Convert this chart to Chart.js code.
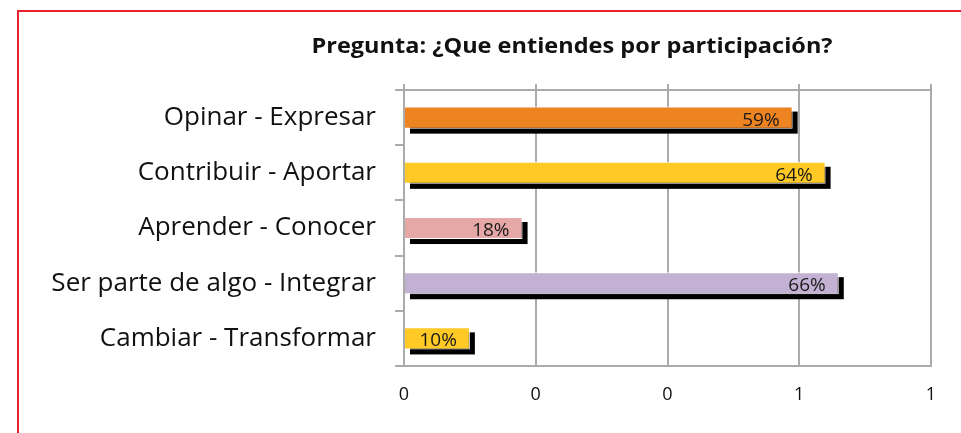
<!DOCTYPE html>
<html>
<head>
<meta charset="utf-8">
<script src="https://cdn.jsdelivr.net/npm/chart.js@4"></script>
<style>
  html, body { margin: 0; padding: 0; background: #fff; overflow: hidden; }
  #frame { position: absolute; left: 17px; top: 10px; width: 1000px; height: 500px;
           border-left: 2px solid #e8202a; border-top: 2px solid #e8202a; }
  #wrap { position: absolute; left: 0; top: 0; width: 961px; height: 433px; }
</style>
</head>
<body>
<div id="frame"></div>
<div id="wrap"><canvas id="myChart" width="961" height="433"></canvas></div>
<script>
// Datos del gráfico
const categorias = ['Opinar - Expresar', 'Contribuir - Aportar', 'Aprender - Conocer',
                    'Ser parte de algo - Integrar', 'Cambiar - Transformar'];
const valores = [0.59, 0.64, 0.18, 0.66, 0.10];
const etiquetas = ['59%', '64%', '18%', '66%', '10%'];
const colores = ['#EE8421', '#FFC926', '#E5A8A6', '#C3B1D3', '#FFC926'];
const titulo = 'Pregunta: ¿Que entiendes por participación?';

const gris = '#ababab';
const fuente = '"Open Sans", sans-serif';

// Sombra negra de las barras + etiquetas de datos + título
const extras = {
  id: 'extras',
  beforeDatasetsDraw(chart) {
    const ctx = chart.ctx;
    ctx.save();
    ctx.fillStyle = '#000';
    chart.getDatasetMeta(0).data.forEach(bar => {
      const p = bar.getProps(['x', 'y', 'base', 'height'], true);
      ctx.fillRect(p.base + 5, p.y - p.height / 2 + 5, p.x - p.base, p.height);
    });
    ctx.restore();
  },
  afterDatasetsDraw(chart) {
    const ctx = chart.ctx;
    ctx.save();
    ctx.font = '19px ' + fuente;
    ctx.fillStyle = '#1a1a1a';
    ctx.textAlign = 'right';
    ctx.textBaseline = 'alphabetic';
    chart.getDatasetMeta(0).data.forEach((bar, i) => {
      ctx.fillText(etiquetas[i], bar.x - 13, bar.y + 8);
    });
    ctx.restore();
  },
  afterDraw(chart) {
    // el título original está algo estirado a lo ancho
    const ctx = chart.ctx;
    ctx.save();
    ctx.translate(572, 53);
    ctx.scale(1.12, 1);
    ctx.font = 'bold 21px ' + fuente;
    ctx.fillStyle = '#111';
    ctx.textAlign = 'center';
    ctx.textBaseline = 'alphabetic';
    ctx.fillText(titulo, 0, 0);
    ctx.restore();
  }
};

var ctx = document.getElementById('myChart').getContext('2d');
var myChart = new Chart(ctx, {
  type: 'bar',
  data: {
    labels: categorias,
    datasets: [{
      data: valores,
      backgroundColor: colores,
      borderColor: '#ffffff',
      borderWidth: 1,
      barPercentage: 0.4,
      categoryPercentage: 1
    }]
  },
  options: {
    indexAxis: 'y',
    responsive: false,
    animation: false,
    layout: { padding: { top: 84, right: 30, bottom: 0, left: 0 } },
    plugins: {
      legend: { display: false },
      tooltip: { enabled: false }
    },
    scales: {
      x: {
        position: 'bottom',
        min: 0,
        max: 0.8,
        afterFit: s => { s.height = 67; },
        grid: { color: gris, lineWidth: 2, drawTicks: false },
        border: { color: gris, width: 2 },
        ticks: {
          stepSize: 0.2,
          padding: 18,
          color: '#111',
          font: { family: fuente, size: 18 },
          callback: v => Math.round(v)
        }
      },
      x2: {
        position: 'top',
        min: 0,
        max: 0.8,
        afterFit: s => { s.height = 6; },
        grid: { color: gris, lineWidth: 2, drawOnChartArea: false, tickLength: 6 },
        border: { color: gris, width: 2 },
        ticks: { stepSize: 0.2, display: false }
      },
      y: {
        afterFit: s => { s.width = 404; },
        grid: { color: gris, lineWidth: 2, drawOnChartArea: false, tickLength: 9 },
        border: { color: gris, width: 2 },
        ticks: {
          padding: 19,
          color: '#111',
          font: { family: fuente, size: 26 }
        }
      }
    }
  },
  plugins: [extras]
});
</script>
</body>
</html>
